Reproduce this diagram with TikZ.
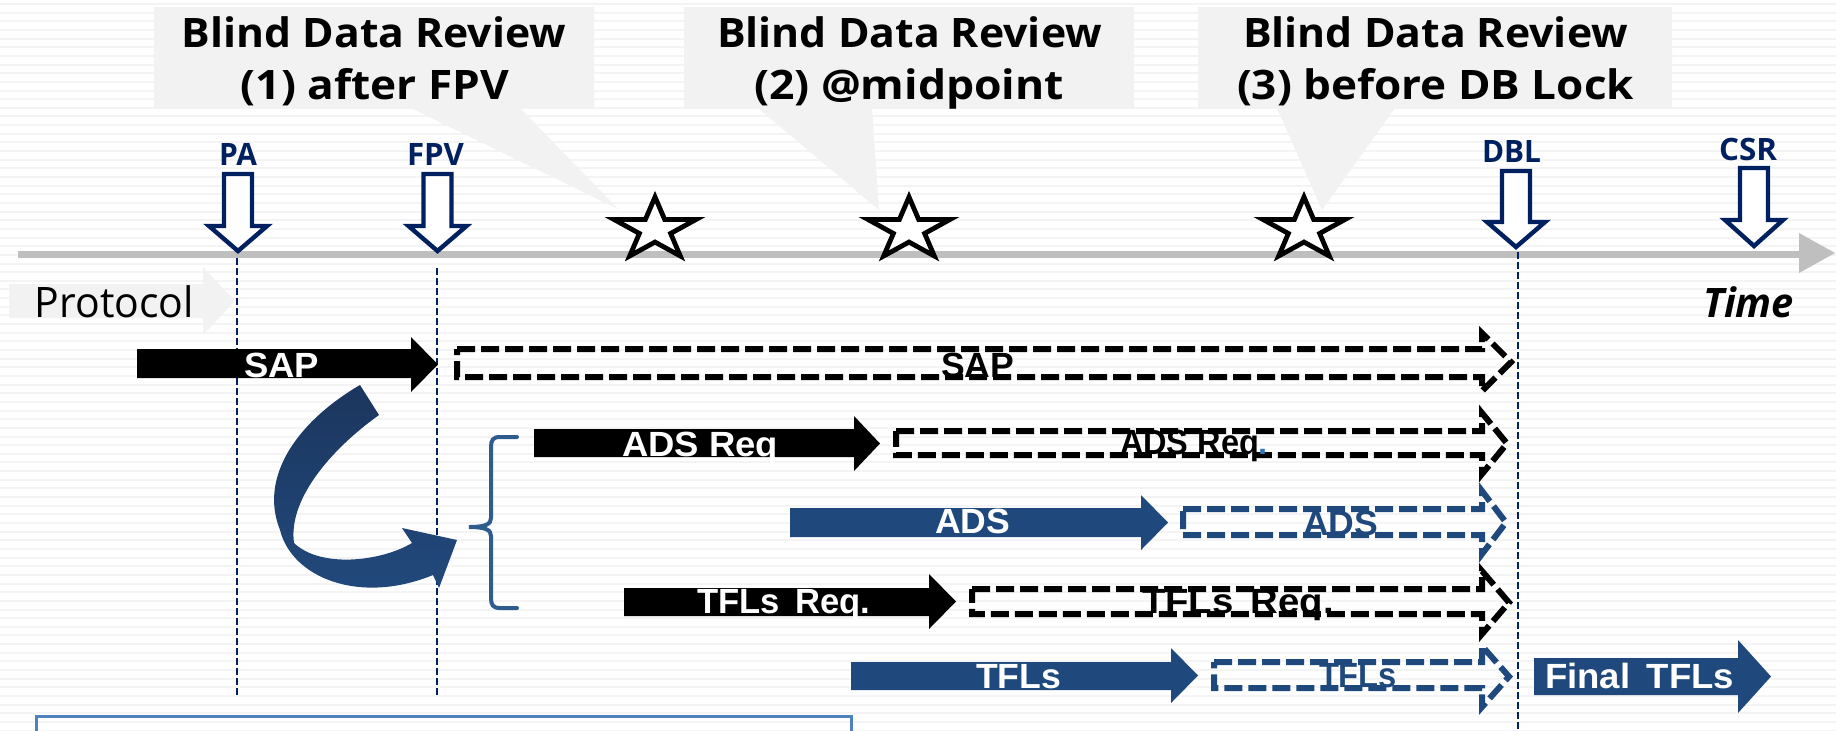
\documentclass[tikz,border=0pt]{standalone}
\usepackage{fontspec}
\usepackage{graphicx}
\newfontfamily\osans{Open Sans}
\newfontfamily\arl{Liberation Sans}
\newdimen\pxu \pxu=0.5pt
\newcommand\fw[2]{\resizebox{#1\pxu}{\height}{#2}}
\newcommand\titlef{\osans\bfseries\fontsize{20.3pt}{24pt}\selectfont}
\newcommand\lblf{\osans\bfseries\fontsize{15.4pt}{18pt}\selectfont}
\newcommand\protf{\osans\fontsize{21pt}{24pt}\selectfont}
\newcommand\timef{\osans\bfseries\itshape\fontsize{20.3pt}{24pt}\selectfont}
\newcommand\arrf{\arl\bfseries\fontsize{17.5pt}{20pt}\selectfont}
\definecolor{navy}{HTML}{002060}
\definecolor{dblue}{HTML}{1F497D}
\definecolor{callgray}{HTML}{F2F2F2}
\definecolor{axisgray}{HTML}{BFBFBF}
\definecolor{bracecol}{HTML}{2E5C8E}
\definecolor{boxblue}{HTML}{4F81BD}
\definecolor{stripecol}{HTML}{F4F4F4}
\definecolor{curvetop}{HTML}{1B365E}
\definecolor{curvebot}{HTML}{224A7E}
\definecolor{dotblue}{HTML}{2E75B6}
% solid block arrow: #1 fill, #2 xl, #3 xr, #4 tip, #5 top, #6 bot, #7 head top, #8 head bottom
\newcommand\solidarr[8]{\fill[#1] (#2,#5) -- (#3,#5) -- (#3,#7) -- (#4,{(#7+#8)/2}) -- (#3,#8) -- (#3,#6) -- (#2,#6) -- cycle;}
\newcommand\dasharr[8]{\draw[dasharrow,#1] (#2,#5) -- (#3,#5) -- (#3,#7) -- (#4,{(#7+#8)/2}) -- (#3,#8) -- (#3,#6) -- (#2,#6) -- cycle;}
% hollow down arrow: #1 xc, #2 top, #3 head start, #4 tip
\newcommand\hollowarr[4]{\draw[hollow] ({#1-14},#2) -- ({#1+14},#2) -- ({#1+14},#3) -- ({#1+29},#3) -- (#1,#4) -- ({#1-29},#3) -- ({#1-14},#3) -- cycle;}
\newcommand\starat[1]{\begin{scope}[shift={(#1,229.6)},xscale=1.32]
\draw[starsty] (-90:32.6) -- (-54:12.45) -- (-18:32.6) -- (18:12.45) -- (54:32.6) -- (90:12.45) -- (126:32.6) -- (162:12.45) -- (198:32.6) -- (234:12.45) -- cycle;
\end{scope}}
\begin{document}
\begin{tikzpicture}[x=0.5pt,y=-0.5pt,
  txt/.style={inner sep=0pt,outer sep=0pt,anchor=base},
  dasharrow/.style={line width=3pt,dash pattern=on 9pt off 3pt,miter limit=4},
  hollow/.style={draw=navy,fill=white,line width=2.2pt},
  starsty/.style={draw=black,fill=white,line width=2.4pt,line join=miter},
  vdash/.style={draw=navy,line width=0.9pt,dash pattern=on 3.5pt off 1.5pt},
  stripe/.style={draw=stripecol,line width=1pt}]
\useasboundingbox (0,0) rectangle (1836,730);
\fill[white] (0,0) rectangle (1836,730);
\foreach \i in {0,...,84} \draw[stripe] (0,{4+8.65*\i}) -- (1836,{4+8.65*\i});

% callouts
\fill[callgray] (154,7) -- (594,7) -- (594,108) -- (520,108) -- (618,209) -- (411,108) -- (154,108) -- cycle;
\fill[callgray] (684,7) -- (1134,7) -- (1134,108) -- (872,108) -- (879,210) -- (758,108) -- (684,108) -- cycle;
\fill[callgray] (1198,7) -- (1672,7) -- (1672,108) -- (1395,108) -- (1322,210) -- (1277,108) -- (1198,108) -- cycle;
\node[txt] (t1a) at (374,47) {\titlef\fw{384}{Blind Data Review}};
\node[txt] (t1b) at (375,99) {\titlef\fw{268}{(1) after FPV}};
\node[txt] (t2a) at (909.5,47) {\titlef\fw{385}{Blind Data Review}};
\node[txt] (t2b) at (909,99) {\titlef\fw{310}{(2) @midpoint}};
\node[txt] (t3a) at (1435.5,47) {\titlef\fw{385}{Blind Data Review}};
\node[txt] (t3b) at (1435.5,99) {\titlef\fw{397}{(3) before DB Lock}};

% timeline
\draw[axisgray,line width=3.5pt] (18,254) -- (1800,254);
\fill[axisgray] (1799,233) -- (1835,253) -- (1799,273) -- cycle;

% vertical dashed lines
\coordinate (paTop) at (237,258); \coordinate (paBot) at (237,697);
\coordinate (fpvTop) at (437,268); \coordinate (fpvBot) at (437,697);
\coordinate (dblTop) at (1518,252); \coordinate (dblBot) at (1518,730);
\draw[vdash] (paTop) -- (paBot);
\draw[vdash] (fpvTop) -- (fpvBot);
\draw[vdash] (dblTop) -- (dblBot);

% milestone arrows
\hollowarr{238}{174}{226}{251}
\hollowarr{437.5}{174}{226}{251}
\hollowarr{1516}{171}{222}{247}
\hollowarr{1754}{168}{220}{246}
\node[txt,text=navy] (pa) at (238,165) {\lblf\fw{38}{PA}};
\node[txt,text=navy] (fpv) at (435.5,165) {\lblf\fw{57}{FPV}};
\node[txt,text=navy] (dbl) at (1511.5,162) {\lblf\fw{59}{DBL}};
\node[txt,text=navy] (csr) at (1748,160) {\lblf\fw{58}{CSR}};

% stars
\starat{655}
\starat{909}
\starat{1304}

% protocol and time
\fill[callgray] (9,284) -- (203,284) -- (203,267) -- (235,301) -- (203,335) -- (203,318) -- (9,318) -- cycle;
\node[txt,anchor=base west] (protocol) at (35,317) {\protf\fw{159}{Protocol}};
\node[txt,anchor=base west] (time) at (1703,317) {\timef\fw{91}{Time}};

% solid arrows
\solidarr{black}{137}{411}{438}{349}{378}{337}{392}
\solidarr{black}{534}{854}{880}{429}{457}{416}{471}
\solidarr{dblue}{790}{1141}{1168}{508}{537}{495}{550}
\solidarr{black}{624}{929}{956}{588}{616}{574}{629}
\solidarr{dblue}{851}{1171}{1198}{662}{690}{648}{703}
\solidarr{dblue}{1534}{1738}{1771}{658}{695}{640}{713}

% dashed arrows
\dasharr{black}{457}{1482}{1511}{349}{377}{333}{391}
\dasharr{black}{896}{1482}{1507}{431}{455}{413}{474}
\dasharr{dblue}{1183}{1482}{1506}{509}{535}{491}{554}
\dasharr{black}{972}{1482}{1509}{589}{614}{571}{634}
\dasharr{dblue}{1214}{1482}{1509}{662}{688}{646}{707}

% arrow labels
\node[txt,text=white] (sapA) at (281.5,377) {\arrf\fw{75}{SAP}};
\node[txt,text=black] (sapB) at (977.5,377) {\arrf\fw{73}{SAP}};
\node[txt,text=white] (adsreqA) at (700,456) {\arrf\fw{156}{ADS Req}};
\node[txt,text=black] (adsreqB) at (1194,454) {\arrf\fw{148}{ADS Req\textcolor{dotblue}{.}}};
\node[txt,text=white] (adsA) at (972.5,533) {\arrf\fw{75}{ADS}};
\node[txt,text=dblue] (adsB) at (1340.5,535) {\arrf\fw{75}{ADS}};
\node[txt,text=white] (tflreqA) at (783.5,613) {\arrf\fw{173}{TFLs\hspace{0.45em}Req.}};
\node[txt,text=black] (tflreqB) at (1238,613) {\arrf\fw{192}{TFLs\hspace{0.45em}Req.}};
\node[txt,text=white] (tflA) at (1018.5,688) {\arrf\fw{85}{TFLs}};
\node[txt,text=dblue] (tflB) at (1358,687) {\arrf\fw{78}{TFLs}};
\node[txt,text=white] (final) at (1639.5,688) {\arrf\fw{189}{Final\hspace{0.45em}TFLs}};

% curved arrow
\shade[top color=curvetop,bottom color=curvebot]
  (360,385) .. controls (300,420) and (258,475) .. (280,530)
  .. controls (292,578) and (360,605) .. (433,575)
  -- (439,588) -- (457,540) -- (402,528) -- (412,543)
  .. controls (380,562) and (320,568) .. (294,543)
  .. controls (288,500) and (330,450) .. (379,415) -- cycle;

% brace
\draw[bracecol,line width=2pt,line cap=round]
  (517,437) -- (500,437) .. controls (493,437) and (491,440) .. (491,447)
  -- (491,518) .. controls (491,524) and (486,527) .. (469,527)
  .. controls (486,527) and (491,530) .. (491,536)
  -- (491,598) .. controls (491,605) and (493,608) .. (500,608) -- (517,608);

% bottom box
\draw[boxblue,line width=1.5pt] (36,745) -- (36,716) -- (851,716) -- (851,745);
\end{tikzpicture}
\end{document}
